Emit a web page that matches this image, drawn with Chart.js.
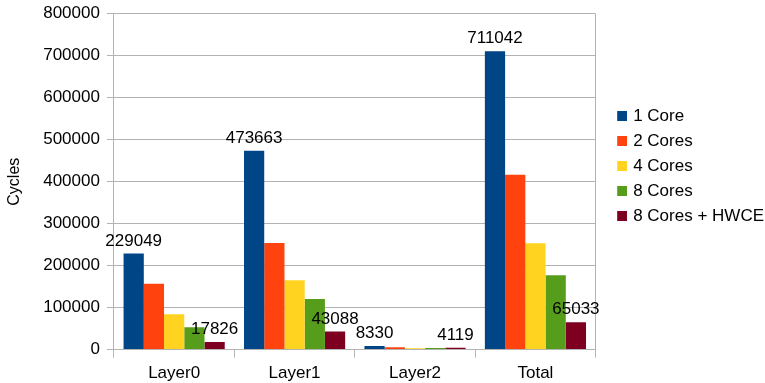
<!DOCTYPE html>
<html>
<head>
<meta charset="utf-8">
<script src="https://cdn.jsdelivr.net/npm/chart.js@4/dist/chart.umd.min.js"></script>
<style>
  html, body { margin: 0; padding: 0; background: #fff; }
  #wrap { width: 765px; height: 383px; }
</style>
</head>
<body>
<div id="wrap"><canvas id="cyclesChart"></canvas></div>
<script>
// 各层的周期数
const categories = ['Layer0', 'Layer1', 'Layer2', 'Total'];
const seriesNames = ['1 Core', '2 Cores', '4 Cores', '8 Cores', '8 Cores + HWCE'];
const core1 = [229049, 473663, 8330, 711042];
const cores2 = [157000, 254000, 5700, 416700];
const cores4 = [84300, 165400, 3500, 253200];
const cores8 = [53000, 120500, 3800, 177300];
const cores8Hwce = [17826, 43088, 4119, 65033];
const yTicks = [0, 100000, 200000, 300000, 400000, 500000, 600000, 700000, 800000];

const colors = ['#004586', '#ff420e', '#ffd320', '#579d1c', '#7e0021'];
const labelled = [0, 4]; // 只给这两组数据标数值
const gridColor = '#b3b3b3';
const fontFamily = '"Liberation Sans", Arial, sans-serif';

// 图例色块：左边留白，右边 10x10 方块
function legendSwatch(color) {
    const c = document.createElement('canvas');
    c.width = 26;
    c.height = 10;
    const g = c.getContext('2d');
    g.fillStyle = color;
    g.fillRect(16, 0, 10, 10);
    return c;
}

// 柱顶数值标签
const valueLabels = {
    id: 'valueLabels',
    afterDatasetsDraw(chart) {
        const ctx = chart.ctx;
        ctx.save();
        ctx.font = '17px ' + fontFamily;
        ctx.fillStyle = '#000';
        ctx.textAlign = 'center';
        ctx.textBaseline = 'bottom';
        labelled.forEach(di => {
            const meta = chart.getDatasetMeta(di);
            meta.data.forEach((bar, i) => {
                ctx.fillText(String(chart.data.datasets[di].data[i]), bar.x, bar.y - 4);
            });
        });
        ctx.restore();
    }
};

const allSeries = [core1, cores2, cores4, cores8, cores8Hwce];

new Chart(document.getElementById('cyclesChart'), {
    type: 'bar',
    data: {
        labels: categories,
        datasets: allSeries.map((d, i) => ({
            label: seriesNames[i],
            data: d,
            backgroundColor: colors[i],
            borderWidth: 0,
            pointStyle: legendSwatch(colors[i]),
            categoryPercentage: 0.84,
            barPercentage: 1
        }))
    },
    options: {
        responsive: true,
        maintainAspectRatio: false,
        animation: false,
        layout: { padding: { top: 7, bottom: -7, left: 0, right: -9 } },
        scales: {
            x: {
                offset: true,
                grid: {
                    offset: true,
                    drawOnChartArea: true,
                    tickLength: 8,
                    // 只画左右两条边线，中间只留刻度
                    color: c => (c.type === 'tick' && c.index > 0) ? 'transparent' : gridColor,
                    tickColor: gridColor
                },
                border: { color: gridColor },
                ticks: { color: '#000', font: { family: fontFamily, size: 17 }, padding: 6 }
            },
            y: {
                min: 0,
                max: 800000,
                afterBuildTicks: axis => { axis.ticks = yTicks.map(v => ({ value: v })); },
                grid: { color: gridColor, tickLength: 7 },
                border: { color: gridColor },
                ticks: {
                    color: '#000',
                    font: { family: fontFamily, size: 17, lineHeight: 0.8 },
                    padding: 7,
                    callback: v => String(v)
                },
                title: {
                    display: true,
                    text: 'Cycles',
                    color: '#000',
                    font: { family: fontFamily, size: 16 },
                    padding: { top: 5, bottom: 12 }
                }
            }
        },
        plugins: {
            legend: {
                position: 'right',
                align: 'start',
                title: { display: true, text: ' ', padding: { top: 78, bottom: 0 } },
                labels: {
                    color: '#000',
                    font: { family: fontFamily, size: 17 },
                    usePointStyle: true,
                    pointStyleWidth: 21,
                    boxHeight: 10,
                    padding: 8
                }
            },
            tooltip: { enabled: false }
        }
    },
    plugins: [valueLabels]
});
</script>
</body>
</html>
